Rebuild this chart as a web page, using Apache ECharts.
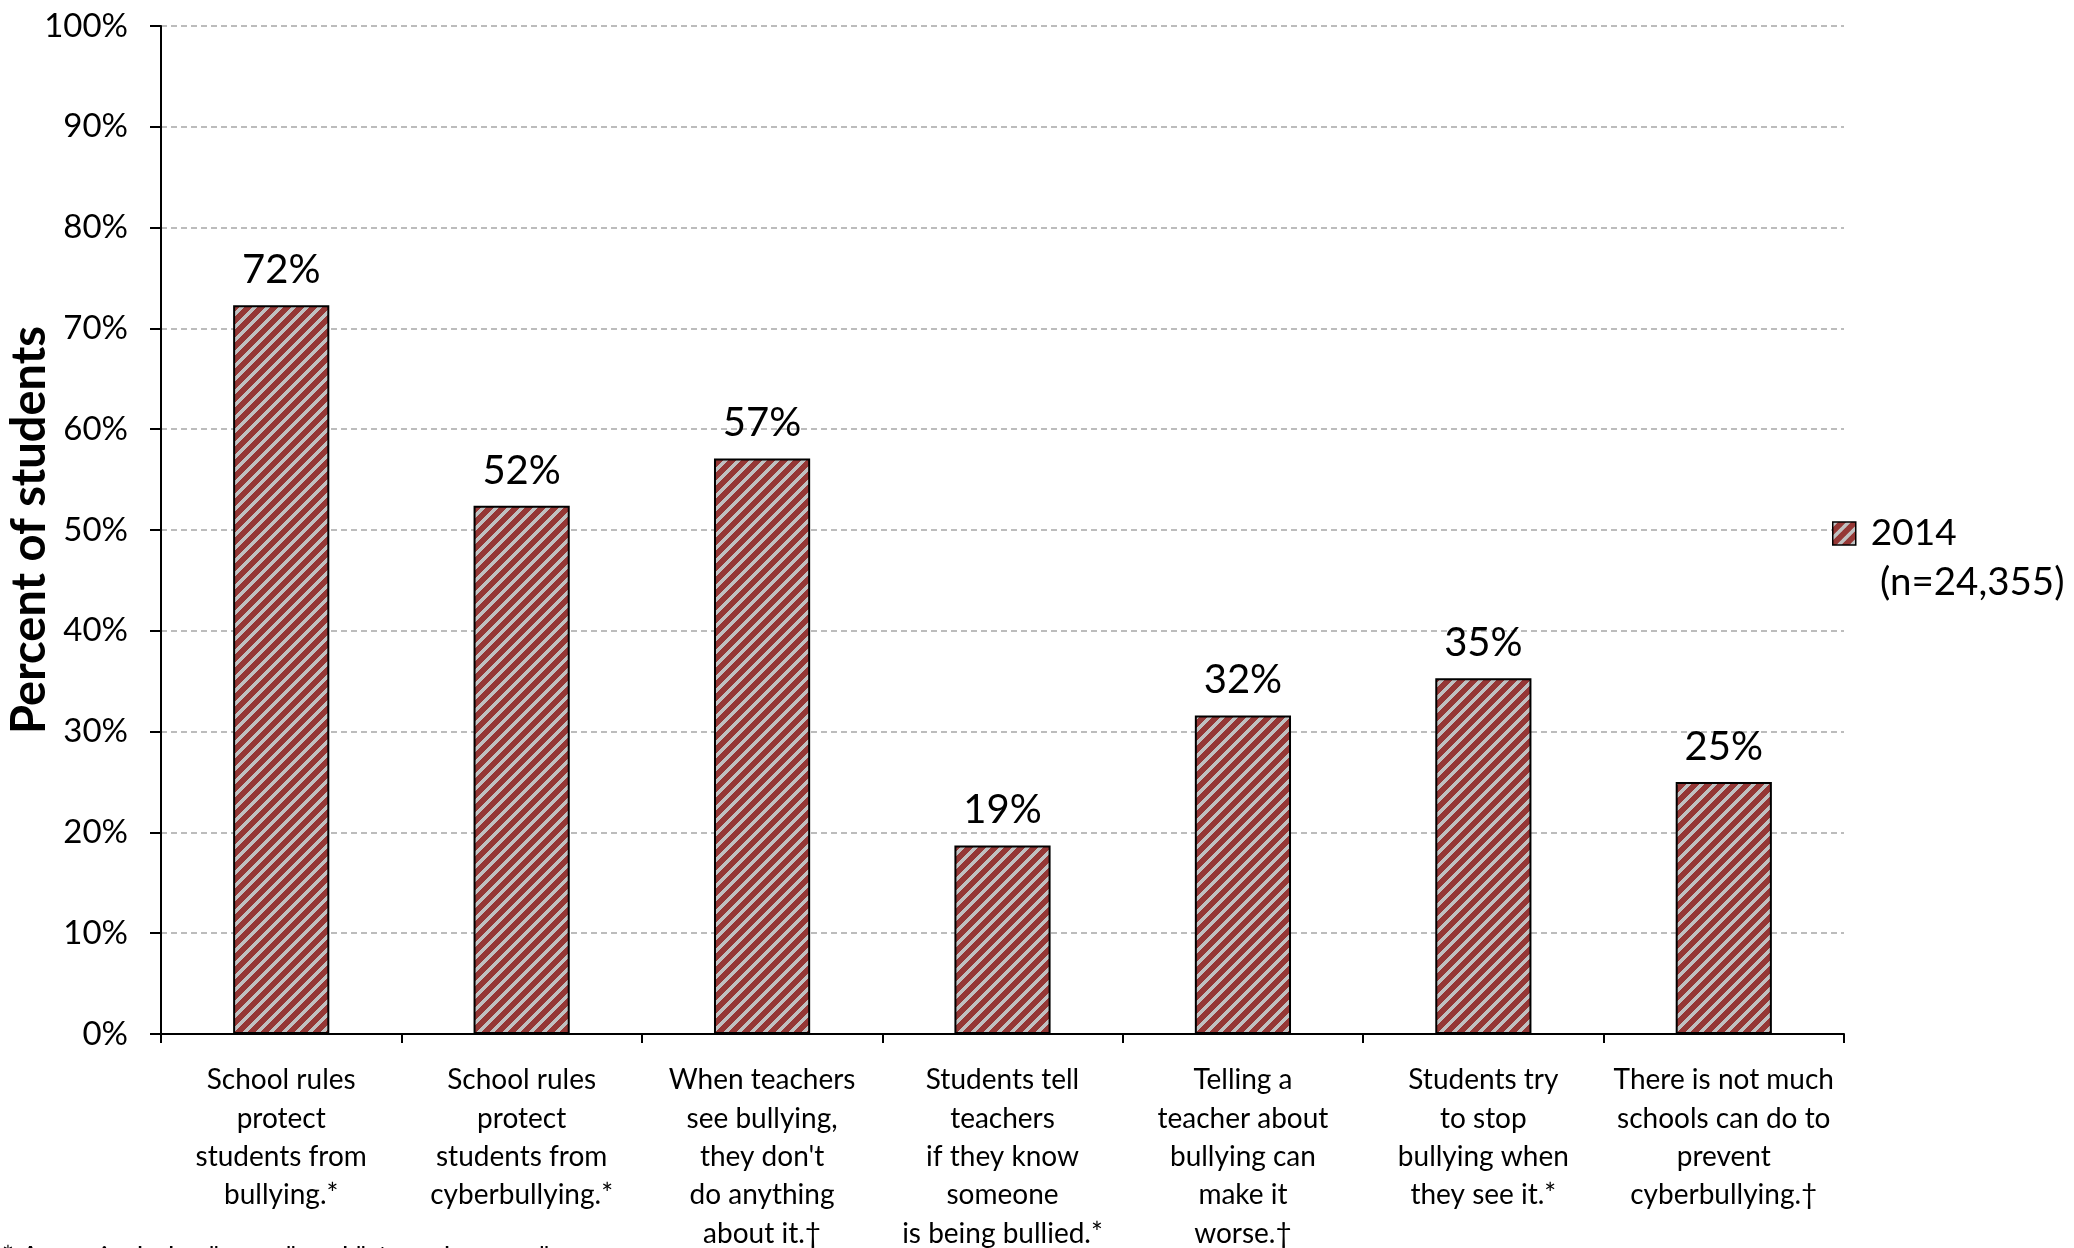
<!DOCTYPE html>
<html>
<head>
<meta charset="utf-8">
<script src="https://cdn.jsdelivr.net/npm/echarts@6/dist/echarts.min.js"></script>
<style>
html,body{margin:0;padding:0;background:#fff;}
#chart{width:2074px;height:1248px;}
</style>
</head>
<body>
<div id="chart"></div>
<script>
const categories = [
  "School rules\nprotect\nstudents from\nbullying.*",
  "School rules\nprotect\nstudents from\ncyberbullying.*",
  "When teachers\nsee bullying,\nthey don't\ndo anything\nabout it.†",
  "Students tell\nteachers\nif they know\nsomeone\nis being bullied.*",
  "Telling a\nteacher about\nbullying can\nmake it\nworse.†",
  "Students try\nto stop\nbullying when\nthey see it.*",
  "There is not much\nschools can do to\nprevent\ncyberbullying.†"
];
const values2014 = [72.3, 52.4, 57.1, 18.7, 31.6, 35.3, 25.0];
const seriesName = "2014";
const seriesNote = "(n=24,355)";
const yAxisTitle = "Percent of students";
const footnote = '* Agree includes "agree" and "strongly agree".';

function makePattern() {
  const P = 13, G = 5;
  const c = document.createElement('canvas');
  c.width = P; c.height = P;
  const ctx = c.getContext('2d');
  ctx.fillStyle = '#953735';
  ctx.fillRect(0, 0, P, P);
  ctx.fillStyle = '#c0c0c0';
  for (let y = 0; y < P; y++) {
    for (let x = 0; x < P; x++) {
      if ((x + y) % P < G) ctx.fillRect(x, y, 1, 1);
    }
  }
  return { image: c, repeat: 'repeat' };
}
const pattern = makePattern();
const FONT = 'Lato';

const chart = echarts.init(document.getElementById('chart'), null, { renderer: 'canvas' });
chart.setOption({
  backgroundColor: '#ffffff',
  animation: false,
  textStyle: { fontFamily: FONT, color: '#000' },
  grid: { left: 161, right: 230, top: 26, bottom: 214, containLabel: false, outerBoundsMode: 'none' },
  legend: {
    show: true,
    left: 1832,
    top: 515,
    padding: 0,
    orient: 'vertical',
    itemWidth: 23,
    itemHeight: 23,
    icon: 'rect',
    data: [seriesName],
    itemStyle: { color: pattern, borderColor: '#000', borderWidth: 1.5 },
    textStyle: { fontFamily: FONT, fontSize: 37, color: '#000', padding: [0, 0, 0, 10] }
  },
  xAxis: {
    type: 'category',
    data: categories,
    boundaryGap: true,
    axisLine: { show: true, lineStyle: { color: '#000', width: 2 } },
    axisTick: { show: true, length: 9, alignWithLabel: false, lineStyle: { color: '#000', width: 2 } },
    axisLabel: {
      interval: 0,
      margin: 27,
      fontFamily: FONT,
      fontSize: 28,
      lineHeight: 38.4,
      color: '#000',
      align: 'center'
    }
  },
  yAxis: {
    type: 'value',
    min: 0,
    max: 100,
    interval: 10,
    name: yAxisTitle,
    nameLocation: 'middle',
    nameGap: 108,
    nameMoveOverlap: false,
    nameRotate: 90,
    nameTextStyle: { fontFamily: FONT, fontSize: 47, fontWeight: 'bold', color: '#000' },
    axisLine: { show: true, lineStyle: { color: '#000', width: 2 } },
    axisTick: { show: true, length: 11, lineStyle: { color: '#000', width: 2 } },
    axisLabel: { formatter: '{value}%', margin: 33, fontFamily: FONT, fontSize: 33, color: '#000' },
    splitLine: { show: true, lineStyle: { color: '#a6a6a6', width: 1.5, type: [6, 4] } }
  },
  series: [{
    name: seriesName,
    type: 'bar',
    data: values2014,
    barWidth: '40%',
    itemStyle: { color: pattern, borderColor: '#000', borderWidth: 2 },
    label: {
      show: true,
      position: 'top',
      distance: 15,
      fontFamily: FONT,
      fontSize: 40,
      color: '#000',
      formatter: p => Math.round(p.value) + '%'
    }
  }],
  graphic: [
    { type: 'text', left: 1880, top: 563, style: { text: seriesNote, fontFamily: FONT, fontSize: 38.5, fill: '#000' } },
    { type: 'text', left: 2, top: 1244, style: { text: footnote, fontFamily: FONT, fontSize: 28, fill: '#000' } }
  ]
});
</script>
</body>
</html>
